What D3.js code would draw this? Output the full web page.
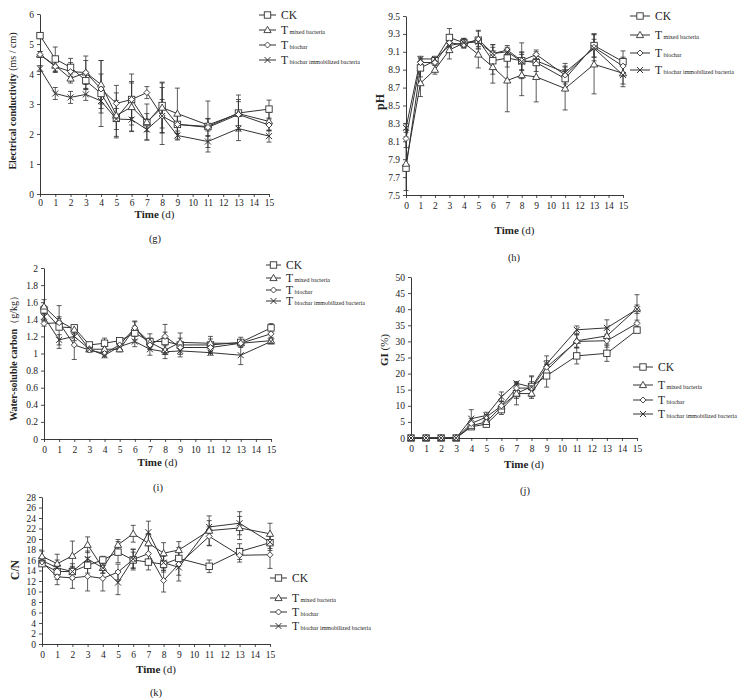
<!DOCTYPE html>
<html>
<head>
<meta charset="utf-8">
<script src="https://cdn.jsdelivr.net/npm/d3@7"></script>
<style>
  html, body { margin: 0; padding: 0; background: #fff; }
  svg { display: block; }
  text { font-family: "Liberation Serif", "DejaVu Serif", serif; fill: #222; }
</style>
</head>
<body>
<svg id="chart" width="747" height="700"></svg>
<script>
// ---------- DATA ----------
const days = [0, 1, 2, 3, 4, 5, 6, 7, 8, 9, 11, 13, 15];
const seriesNames = ["CK", "mixed bacteria", "biochar", "biochar immobilized bacteria"];

// (g) Electrical conductivity (ms/cm)
const ecCK      = [5.28, 4.50, 4.22, 3.78, 3.35, 2.52, 3.15, 2.38, 2.95, 2.32, 2.25, 2.70, 2.83];
const ecMixed   = [4.65, 4.28, 3.85, 4.05, 3.65, 2.62, 2.90, 2.40, 2.88, 2.68, 2.30, 2.68, 2.42];
const ecBiochar = [4.65, 4.25, 4.08, 4.05, 3.50, 3.02, 3.15, 3.38, 2.60, 2.32, 2.22, 2.65, 2.30];
const ecImm     = [4.18, 3.35, 3.22, 3.32, 3.10, 2.50, 2.48, 2.15, 2.60, 1.95, 1.75, 2.18, 1.93];
const ecErrCK      = [0.10, 0.40, 0.30, 0.30, 1.10, 0.60, 0.85, 0.30, 0.75, 0.30, 0.85, 0.60, 0.30];
const ecErrMixed   = [0.10, 0.20, 0.15, 0.55, 0.80, 0.75, 0.80, 0.60, 0.85, 0.85, 0.20, 0.40, 0.30];
const ecErrBiochar = [0.10, 0.20, 0.30, 0.40, 0.50, 0.60, 0.60, 0.20, 0.95, 0.30, 0.30, 0.50, 0.20];
const ecErrImm     = [0.10, 0.20, 0.20, 0.20, 0.40, 0.35, 0.40, 0.35, 0.55, 0.15, 0.20, 0.40, 0.20];
const ecTicks = [0, 1, 2, 3, 4, 5, 6];

// (h) pH
const phCK      = [7.80, 8.92, 9.00, 9.26, 9.20, 9.23, 9.00, 9.03, 9.00, 8.98, 8.80, 9.17, 8.99];
const phMixed   = [7.85, 8.75, 8.90, 9.12, 9.20, 9.07, 8.93, 8.78, 8.84, 8.82, 8.69, 8.96, 8.86];
const phBiochar = [8.13, 8.98, 8.98, 9.20, 9.18, 9.24, 9.08, 9.12, 9.00, 9.07, 8.84, 9.15, 8.94];
const phImm     = [8.25, 9.02, 9.02, 9.17, 9.20, 9.21, 9.08, 9.10, 8.99, 9.00, 8.87, 9.14, 8.84];
const phErrCK      = [0.03, 0.10, 0.03, 0.10, 0.05, 0.10, 0.15, 0.10, 0.20, 0.10, 0.10, 0.13, 0.12];
const phErrMixed   = [0.30, 0.15, 0.05, 0.10, 0.05, 0.15, 0.18, 0.35, 0.23, 0.28, 0.24, 0.33, 0.15];
const phErrBiochar = [0.10, 0.05, 0.03, 0.05, 0.04, 0.10, 0.10, 0.05, 0.10, 0.05, 0.10, 0.15, 0.10];
const phErrImm     = [0.05, 0.03, 0.03, 0.05, 0.04, 0.05, 0.10, 0.05, 0.10, 0.05, 0.10, 0.10, 0.10];
const phTicks = [7.5, 7.7, 7.9, 8.1, 8.3, 8.5, 8.7, 8.9, 9.1, 9.3, 9.5];

// (i) Water-soluble carbon (g/kg)
const wscCK      = [1.51, 1.31, 1.30, 1.10, 1.12, 1.15, 1.24, 1.14, 1.14, 1.10, 1.10, 1.13, 1.30];
const wscMixed   = [1.55, 1.38, 1.28, 1.05, 1.05, 1.05, 1.30, 1.13, 1.04, 1.13, 1.12, 1.12, 1.15];
const wscBiochar = [1.35, 1.36, 1.10, 1.04, 1.00, 1.10, 1.30, 1.10, 1.20, 1.07, 1.07, 1.12, 1.23];
const wscImm     = [1.43, 1.16, 1.20, 1.05, 0.98, 1.08, 1.14, 1.05, 1.02, 1.03, 1.01, 0.98, 1.14];
const wscErrCK      = [0.05, 0.25, 0.03, 0.03, 0.06, 0.02, 0.08, 0.09, 0.20, 0.14, 0.10, 0.06, 0.05];
const wscErrMixed   = [0.08, 0.05, 0.05, 0.03, 0.03, 0.03, 0.08, 0.05, 0.05, 0.05, 0.05, 0.03, 0.03];
const wscErrBiochar = [0.03, 0.05, 0.17, 0.02, 0.03, 0.05, 0.07, 0.05, 0.05, 0.03, 0.05, 0.03, 0.04];
const wscErrImm     = [0.05, 0.06, 0.05, 0.02, 0.03, 0.05, 0.06, 0.07, 0.03, 0.04, 0.03, 0.11, 0.03];
const wscTicks = [0, 0.2, 0.4, 0.6, 0.8, 1, 1.2, 1.4, 1.6, 1.8, 2];

// (j) GI (%)
const giCK      = [0, 0, 0, 0, 3.5, 4.3, 8.8, 13.8, 16.0, 19.3, 25.5, 26.3, 33.5];
const giMixed   = [0, 0, 0, 0, 3.8, 5.0, 9.8, 13.8, 13.8, 21.0, 30.2, 31.7, 40.2];
const giBiochar = [0, 0, 0, 0, 4.5, 6.5, 10.0, 15.5, 15.5, 22.0, 30.0, 30.2, 35.6];
const giImm     = [0, 0, 0, 0, 6.0, 7.0, 12.8, 17.0, 15.8, 23.0, 33.6, 34.2, 40.0];
const giErrCK      = [0, 0, 0, 0, 0.8, 0.8, 1.5, 3.5, 3.0, 3.5, 2.5, 2.5, 0.8];
const giErrMixed   = [0, 0, 0, 0, 1.0, 1.0, 1.5, 1.5, 1.0, 2.0, 2.0, 2.5, 4.3];
const giErrBiochar = [0, 0, 0, 0, 1.5, 0.8, 1.5, 1.5, 2.0, 2.0, 2.0, 2.0, 1.0];
const giErrImm     = [0, 0, 0, 0, 2.8, 1.0, 1.5, 0.5, 3.5, 2.5, 1.2, 2.5, 1.3];
const giTicks = [0, 5, 10, 15, 20, 25, 30, 35, 40, 45, 50];

// (k) C/N
const cnCK      = [15.3, 13.8, 13.8, 15.0, 16.0, 17.5, 16.0, 15.6, 15.2, 16.3, 14.8, 17.6, 19.3];
const cnMixed   = [16.7, 15.3, 16.8, 18.9, 14.5, 18.9, 21.0, 19.2, 17.3, 17.9, 21.6, 22.1, 21.0];
const cnBiochar = [15.6, 12.8, 12.6, 12.9, 12.5, 13.7, 16.1, 17.2, 12.1, 15.2, 20.5, 16.9, 17.0];
const cnImm     = [15.9, 14.5, 13.8, 16.2, 14.5, 11.7, 16.2, 21.3, 15.5, 14.6, 22.3, 23.0, 19.4];
const cnErrCK      = [0.5, 1.5, 1.5, 1.5, 0.7, 2.0, 1.5, 1.5, 1.5, 1.5, 1.2, 1.5, 1.5];
const cnErrMixed   = [1.0, 1.8, 2.8, 1.5, 1.0, 1.0, 1.6, 1.8, 2.0, 1.6, 2.8, 2.2, 2.0];
const cnErrBiochar = [0.8, 1.5, 2.0, 2.8, 2.4, 1.5, 2.0, 1.5, 2.2, 3.2, 1.8, 1.3, 2.6];
const cnErrImm     = [0.5, 1.5, 1.0, 1.5, 1.0, 2.3, 1.8, 2.1, 1.5, 1.5, 1.2, 2.2, 1.2];
const cnTicks = [0, 2, 4, 6, 8, 10, 12, 14, 16, 18, 20, 22, 24, 26, 28];

const xTicks = d3.range(0, 16);

// ---------- DRAWING ----------
const svg = d3.select("#chart");
const lineColor = "#333";
const markerTypes = ["square", "triangle", "diamond", "cross"];

function drawMarker(g, type, x, y) {
  if (type === "square") {
    g.append("rect").attr("x", x - 3.2).attr("y", y - 3.2).attr("width", 6.4).attr("height", 6.4)
      .attr("fill", "#fff").attr("stroke", lineColor).attr("stroke-width", 0.9);
  } else if (type === "triangle") {
    g.append("path").attr("d", `M${x},${y - 3.6}L${x + 3.6},${y + 2.6}L${x - 3.6},${y + 2.6}Z`)
      .attr("fill", "#fff").attr("stroke", lineColor).attr("stroke-width", 0.9);
  } else if (type === "diamond") {
    g.append("path").attr("d", `M${x},${y - 3}L${x + 3},${y}L${x},${y + 3}L${x - 3},${y}Z`)
      .attr("fill", "#fff").attr("stroke", lineColor).attr("stroke-width", 0.9);
  } else {
    g.append("path").attr("d", `M${x - 3},${y - 3}L${x + 3},${y + 3}M${x - 3},${y + 3}L${x + 3},${y - 3}`)
      .attr("stroke", lineColor).attr("stroke-width", 1);
  }
}

function drawPanel(cfg) {
  const g = svg.append("g");
  const x = d3.scaleLinear().domain([0, 15]).range([cfg.left, cfg.right]);
  const y = d3.scaleLinear().domain(cfg.yDomain).range([cfg.bottom, cfg.top]);

  // axes
  const xAxis = d3.axisBottom(x).tickValues(xTicks).tickSize(3).tickSizeOuter(0).tickPadding(2).tickFormat(d3.format("d"));
  const yAxis = d3.axisLeft(y).tickValues(cfg.yTicks).tickSize(3).tickSizeOuter(0).tickPadding(3).tickFormat(cfg.yFormat);
  const gx = g.append("g").attr("transform", `translate(0,${cfg.bottom})`).call(xAxis);
  const gy = g.append("g").attr("transform", `translate(${cfg.left},0)`).call(yAxis);
  [gx, gy].forEach(a => {
    a.select(".domain").attr("stroke", "#222").attr("stroke-width", 0.9);
    a.selectAll(".tick line").attr("stroke", "#222").attr("stroke-width", 0.8);
    a.selectAll(".tick text").style("font-family", "Liberation Serif, serif").style("font-size", "9.5px").attr("fill", "#222");
  });
  gx.selectAll(".tick text").attr("dy", cfg.xTickDy || "0.9em");

  // series
  cfg.series.forEach((s, i) => {
    const pts = days.map((d, k) => ({ d, v: s.values[k], e: s.errors[k] }));
    pts.forEach(p => {
      if (p.e > 0) {
        const xp = x(p.d), y1 = y(p.v + p.e), y2 = y(p.v - p.e);
        g.append("line").attr("x1", xp).attr("x2", xp).attr("y1", y1).attr("y2", y2)
          .attr("stroke", lineColor).attr("stroke-width", 0.8);
        g.append("line").attr("x1", xp - 2.5).attr("x2", xp + 2.5).attr("y1", y1).attr("y2", y1)
          .attr("stroke", lineColor).attr("stroke-width", 0.8);
        g.append("line").attr("x1", xp - 2.5).attr("x2", xp + 2.5).attr("y1", y2).attr("y2", y2)
          .attr("stroke", lineColor).attr("stroke-width", 0.8);
      }
    });
    g.append("path").datum(pts)
      .attr("d", d3.line().x(p => x(p.d)).y(p => y(p.v)))
      .attr("fill", "none").attr("stroke", lineColor).attr("stroke-width", 1);
  });
  cfg.series.forEach((s, i) => {
    days.forEach((d, k) => drawMarker(g, markerTypes[i], x(d), y(s.values[k])));
  });

  // y title
  const yt = g.append("text")
    .attr("transform", `translate(${cfg.yTitleX},${cfg.yTitleY}) rotate(-90)`)
    .attr("text-anchor", "middle").style("font-size", cfg.yTitleSize);
  yt.append("tspan").attr("font-weight", "bold").text(cfg.yTitleBold);
  if (cfg.yTitleRest) yt.append("tspan").text(cfg.yTitleRest);

  // x title
  const xt = g.append("text").attr("x", (cfg.left + cfg.right) / 2).attr("y", cfg.xTitleY)
    .attr("text-anchor", "middle").style("font-size", "11px");
  xt.append("tspan").attr("font-weight", "bold").text("Time");
  xt.append("tspan").text(" (d)");

  // panel letter
  g.append("text").attr("x", cfg.letterX).attr("y", cfg.letterY).attr("text-anchor", "middle")
    .style("font-size", "10.5px").text(cfg.letter);

  // legend
  cfg.legendY.forEach((ly, i) => {
    g.append("line").attr("x1", cfg.legendX).attr("x2", cfg.legendX + cfg.legendLen)
      .attr("y1", ly).attr("y2", ly).attr("stroke", lineColor).attr("stroke-width", 1);
    drawMarker(g, markerTypes[i], cfg.legendX + cfg.legendLen / 2, ly);
    const t = g.append("text").attr("x", cfg.legendX + cfg.legendLen + 5).attr("y", ly + 4);
    if (i === 0) {
      t.style("font-size", "11.5px").text(seriesNames[0]);
    } else {
      t.append("tspan").style("font-size", "11.5px").text("T");
      t.append("tspan").style("font-size", "6px").attr("dx", "1.5").text(seriesNames[i]);
    }
  });
}

const fmtInt = d3.format("d");
const fmt1 = d3.format(".1f");
const fmtWsc = d => (Number.isInteger(d) ? String(d) : d3.format(".1f")(d));

drawPanel({
  left: 40, right: 269, top: 14, bottom: 194, yDomain: [0, 6], yTicks: ecTicks, yFormat: fmtInt,
  xTickDy: "0.71em",
  series: [
    { values: ecCK, errors: ecErrCK }, { values: ecMixed, errors: ecErrMixed },
    { values: ecBiochar, errors: ecErrBiochar }, { values: ecImm, errors: ecErrImm }
  ],
  yTitleBold: "Electrical conductivity", yTitleRest: " (ms / cm)", yTitleX: 16, yTitleY: 101, yTitleSize: "10px",
  xTitleY: 218, letter: "(g)", letterX: 155, letterY: 242,
  legendX: 259, legendLen: 17, legendY: [15, 30, 45, 60]
});

drawPanel({
  left: 406, right: 623, top: 16, bottom: 195, yDomain: [7.5, 9.5], yTicks: phTicks, yFormat: fmt1,
  series: [
    { values: phCK, errors: phErrCK }, { values: phMixed, errors: phErrMixed },
    { values: phBiochar, errors: phErrBiochar }, { values: phImm, errors: phErrImm }
  ],
  yTitleBold: "pH", yTitleRest: "", yTitleX: 384, yTitleY: 102, yTitleSize: "12px",
  xTitleY: 234, letter: "(h)", letterX: 514, letterY: 261,
  legendX: 630, legendLen: 20, legendY: [16, 35, 53, 70]
});

drawPanel({
  left: 44, right: 271, top: 268, bottom: 439, yDomain: [0, 2], yTicks: wscTicks, yFormat: fmtWsc,
  series: [
    { values: wscCK, errors: wscErrCK }, { values: wscMixed, errors: wscErrMixed },
    { values: wscBiochar, errors: wscErrBiochar }, { values: wscImm, errors: wscErrImm }
  ],
  yTitleBold: "Water-soluble carbon", yTitleRest: "（g/kg）", yTitleX: 17, yTitleY: 356, yTitleSize: "10px",
  xTitleY: 466, letter: "(i)", letterX: 158, letterY: 491,
  legendX: 266, legendLen: 15, legendY: [265, 278, 290, 301]
});

drawPanel({
  left: 411, right: 637, top: 277, bottom: 438, yDomain: [0, 50], yTicks: giTicks, yFormat: fmtInt,
  series: [
    { values: giCK, errors: giErrCK }, { values: giMixed, errors: giErrMixed },
    { values: giBiochar, errors: giErrBiochar }, { values: giImm, errors: giErrImm }
  ],
  yTitleBold: "GI", yTitleRest: " (%)", yTitleX: 388, yTitleY: 350, yTitleSize: "11px",
  xTitleY: 468, letter: "(j)", letterX: 525, letterY: 494,
  legendX: 633, legendLen: 20, legendY: [367, 385, 400, 414]
});

drawPanel({
  left: 42, right: 270, top: 497, bottom: 644, yDomain: [0, 28], yTicks: cnTicks, yFormat: fmtInt,
  series: [
    { values: cnCK, errors: cnErrCK }, { values: cnMixed, errors: cnErrMixed },
    { values: cnBiochar, errors: cnErrBiochar }, { values: cnImm, errors: cnErrImm }
  ],
  yTitleBold: "C/N", yTitleRest: "", yTitleX: 19, yTitleY: 570, yTitleSize: "11.5px",
  xTitleY: 673, letter: "(k)", letterX: 156, letterY: 696,
  legendX: 270, legendLen: 17, legendY: [578, 598, 612, 626]
});
</script>
</body>
</html>
